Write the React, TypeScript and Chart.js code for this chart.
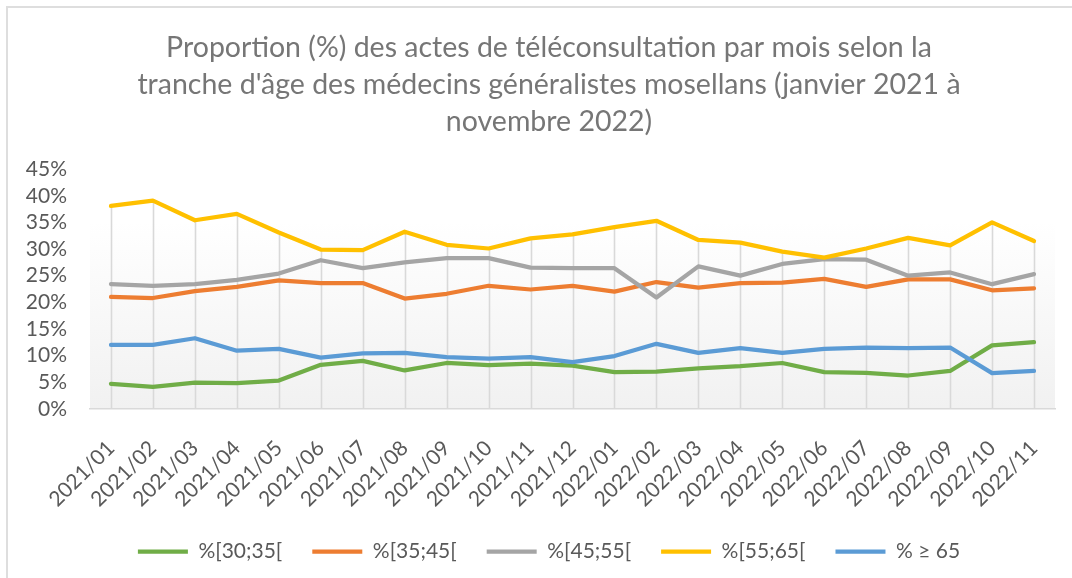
import React, { useEffect, useRef } from 'react';
import { Chart, registerables } from 'chart.js';

Chart.register(...registerables);

const months = [
  '2021/01', '2021/02', '2021/03', '2021/04', '2021/05', '2021/06', '2021/07', '2021/08',
  '2021/09', '2021/10', '2021/11', '2021/12', '2022/01', '2022/02', '2022/03', '2022/04',
  '2022/05', '2022/06', '2022/07', '2022/08', '2022/09', '2022/10', '2022/11',
];

const seriesLabels = ['%[30;35[', '%[35;45[', '%[45;55[', '%[55;65[', '% ≥ 65'];

const age30to35 = [4.7, 4.1, 4.9, 4.8, 5.3, 8.25, 9.0, 7.2, 8.6, 8.2, 8.5, 8.1, 6.9, 7.0, 7.6, 8.0, 8.6, 6.9, 6.75, 6.25, 7.1, 11.9, 12.5];
const age35to45 = [21.0, 20.8, 22.1, 22.9, 24.1, 23.6, 23.6, 20.7, 21.6, 23.1, 22.4, 23.1, 22.0, 23.8, 22.75, 23.6, 23.7, 24.4, 22.9, 24.3, 24.3, 22.25, 22.6];
const age45to55 = [23.4, 23.1, 23.4, 24.2, 25.4, 27.9, 26.4, 27.5, 28.3, 28.3, 26.5, 26.4, 26.4, 20.9, 26.75, 25.0, 27.2, 28.1, 28.0, 25.0, 25.6, 23.4, 25.3];
const age55to65 = [38.1, 39.1, 35.4, 36.6, 33.1, 29.9, 29.8, 33.25, 30.8, 30.1, 32.0, 32.75, 34.1, 35.3, 31.7, 31.2, 29.5, 28.4, 30.1, 32.1, 30.7, 35.0, 31.5];
const age65plus = [12.0, 12.0, 13.25, 10.9, 11.25, 9.6, 10.4, 10.5, 9.7, 9.4, 9.7, 8.75, 9.9, 12.2, 10.5, 11.4, 10.5, 11.25, 11.5, 11.4, 11.5, 6.7, 7.1];

const seriesColors = ['#70AD47', '#ED7D31', '#A5A5A5', '#FFC000', '#5B9BD5'];

const titleLines = [
  'Proportion (%) des actes de téléconsultation par mois selon la',
  "tranche d'âge des médecins généralistes mosellans (janvier 2021 à",
  'novembre 2022)',
];

const yMin = 0;
const yMax = 45;
const yStep = 5;

const FONT = 'Lato, "Open Sans", sans-serif';

const plotBackground = {
  id: 'plotBackground',
  beforeDraw(chart: any) {
    const { ctx, chartArea: a } = chart;
    if (!a) return;
    const g = ctx.createLinearGradient(0, a.top, 0, a.bottom);
    g.addColorStop(0, '#ffffff');
    g.addColorStop(0.22, '#ffffff');
    g.addColorStop(1, '#f1f1f1');
    ctx.save();
    ctx.fillStyle = g;
    ctx.fillRect(a.left, a.top, a.right - a.left, a.bottom - a.top);
    ctx.restore();
  },
};

const dropLines = {
  id: 'dropLines',
  beforeDatasetsDraw(chart: any) {
    const { ctx, chartArea: a } = chart;
    const xs = chart.scales.x;
    const ys = chart.scales.y;
    const sets = chart.data.datasets;
    ctx.save();
    ctx.strokeStyle = '#d9d9d9';
    ctx.lineWidth = 1.6;
    chart.data.labels.forEach((_: any, i: number) => {
      const top = Math.max(...sets.map((d: any) => d.data[i]));
      const px = Math.round(xs.getPixelForValue(i)) + 0.5;
      const py = ys.getPixelForValue(top);
      ctx.beginPath();
      ctx.moveTo(px, py);
      ctx.lineTo(px, a.bottom);
      ctx.stroke();
    });
    ctx.restore();
  },
};

// center title and legend on the whole canvas (the frame), not on the padded box
const centerBlocks = {
  id: 'centerBlocks',
  afterLayout(chart: any) {
    if (chart.titleBlock) {
      chart.titleBlock.left = 0;
      chart.titleBlock.right = chart.width;
    }
    if (chart.legend) {
      chart.legend.left = 0;
      chart.legend.right = chart.width;
    }
  },
};

export default function App() {
  const ref = useRef<HTMLCanvasElement | null>(null);

  useEffect(() => {
    if (!ref.current) return;
    const allSeries = [age30to35, age35to45, age45to55, age55to65, age65plus];
    const chart = new Chart(ref.current, {
      type: 'line',
      data: {
        labels: months,
        datasets: allSeries.map((data, i) => ({
          label: seriesLabels[i],
          data,
          borderColor: seriesColors[i],
          backgroundColor: seriesColors[i],
          borderWidth: 4.25,
          pointRadius: 0,
          pointHoverRadius: 0,
          tension: 0,
          fill: false,
          borderCapStyle: 'round' as const,
          borderJoinStyle: 'round' as const,
          order: allSeries.length - i,
        })),
      },
      options: {
        responsive: false,
        animation: false,
        devicePixelRatio: 1,
        layout: { padding: { left: 0, right: 35, top: 0, bottom: 8 } },
        plugins: {
          tooltip: { enabled: false },
          title: {
            display: true,
            text: titleLines,
            color: '#767676',
            font: { family: FONT, size: 28.5, weight: 'normal', lineHeight: 1.3 },
            padding: { top: 21, bottom: 29 },
          },
          legend: {
            position: 'bottom',
            labels: {
              usePointStyle: true,
              pointStyle: 'line',
              pointStyleWidth: 50,
              color: '#595959',
              font: { family: FONT, size: 21 },
              padding: 30,
              sort: (a: any, b: any) => a.datasetIndex - b.datasetIndex,
            },
          },
        },
        scales: {
          x: {
            offset: true,
            grid: { display: false, drawTicks: false },
            border: { display: true, color: '#d9d9d9', width: 1.6 },
            afterFit: (s: any) => { s.height = s.height - 28; },
            ticks: {
              autoSkip: false,
              maxRotation: 45,
              minRotation: 45,
              color: '#595959',
              font: { family: FONT, size: 21 },
              padding: 27,
            },
          },
          y: {
            min: yMin,
            max: yMax,
            grid: { display: false, drawTicks: false },
            border: { display: false },
            afterFit: (s: any) => { s.width = 82; },
            ticks: {
              autoSkip: false,
              stepSize: yStep,
              color: '#595959',
              font: { family: FONT, size: 21 },
              padding: 23,
              callback: (v: any) => `${v}%`,
            },
          },
        },
      },
      plugins: [plotBackground, dropLines, centerBlocks],
    });
    return () => chart.destroy();
  }, []);

  return (
    <div
      style={{
        position: 'fixed',
        left: 6,
        top: 6,
        width: 1066,
        height: 572,
        overflow: 'hidden',
        borderLeft: '2px solid #dedede',
        borderTop: '2px solid #dedede',
        background: '#ffffff',
      }}
    >
      <canvas ref={ref} width={1082} height={572} style={{ display: 'block' }} />
    </div>
  );
}
